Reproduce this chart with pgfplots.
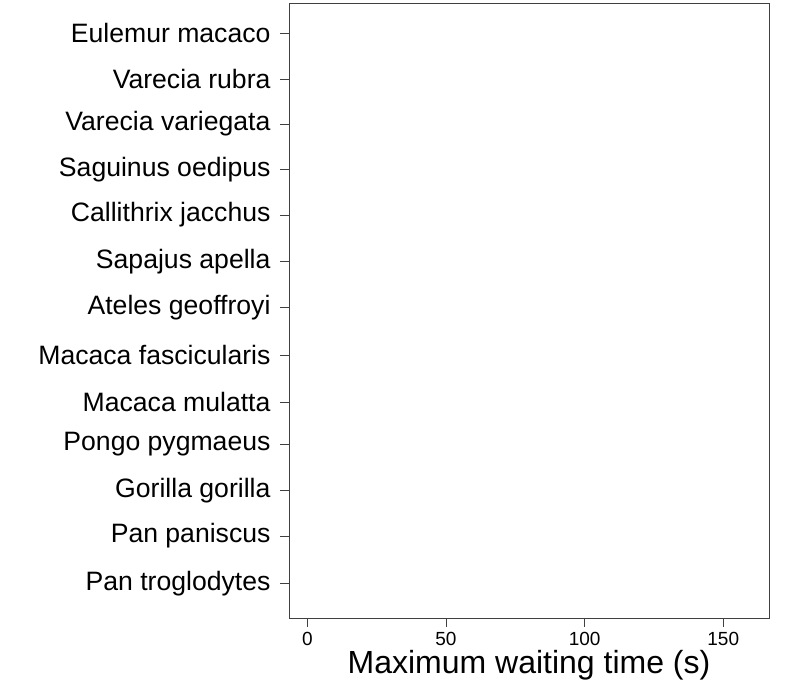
\documentclass[border=0pt]{standalone}
\usepackage{fontspec}
\setmainfont{Liberation Sans}
\usepackage{pgfplots}
\pgfplotsset{compat=1.18}
\begin{document}
\begin{tikzpicture}[x=1pt,y=1pt]
\useasboundingbox (0,0) rectangle (811,687);
\begin{axis}[
  at={(289pt,69pt)}, anchor=south west,
  scale only axis, width=480pt, height=614.5pt,
  xmin=-6.6, xmax=166.5,
  ymin=69, ymax=683.5,
  xtick={0,50,100,150},
  ytick={103.7,151,196.3,242.7,284.7,332,379.7,425.3,472,517.7,563,607.7,653.7},
  yticklabels={Pan troglodytes,Pan paniscus,Gorilla gorilla,Pongo pygmaeus,Macaca mulatta,Macaca fascicularis,Ateles geoffroyi,Sapajus apella,Callithrix jacchus,Saguinus oedipus,Varecia variegata,Varecia rubra,Eulemur macaco},
  xtick pos=bottom, ytick pos=left,
  tick align=outside,
  major tick length=9pt,
  tick style={black!75, line width=0.9pt},
  axis line style={black!75, line width=0.9pt},
  /pgf/number format/assume math mode=true,
  xticklabel style={font=\fontsize{19}{19}\selectfont, yshift=-1.5pt},
  yticklabel style={font=\fontsize{26.6}{27}\selectfont, xshift=-6pt},
  xlabel={Maximum waiting time (s)},
  xlabel style={font=\fontsize{32}{32}\selectfont, yshift=2pt},
]
\end{axis}
\end{tikzpicture}
\end{document}
